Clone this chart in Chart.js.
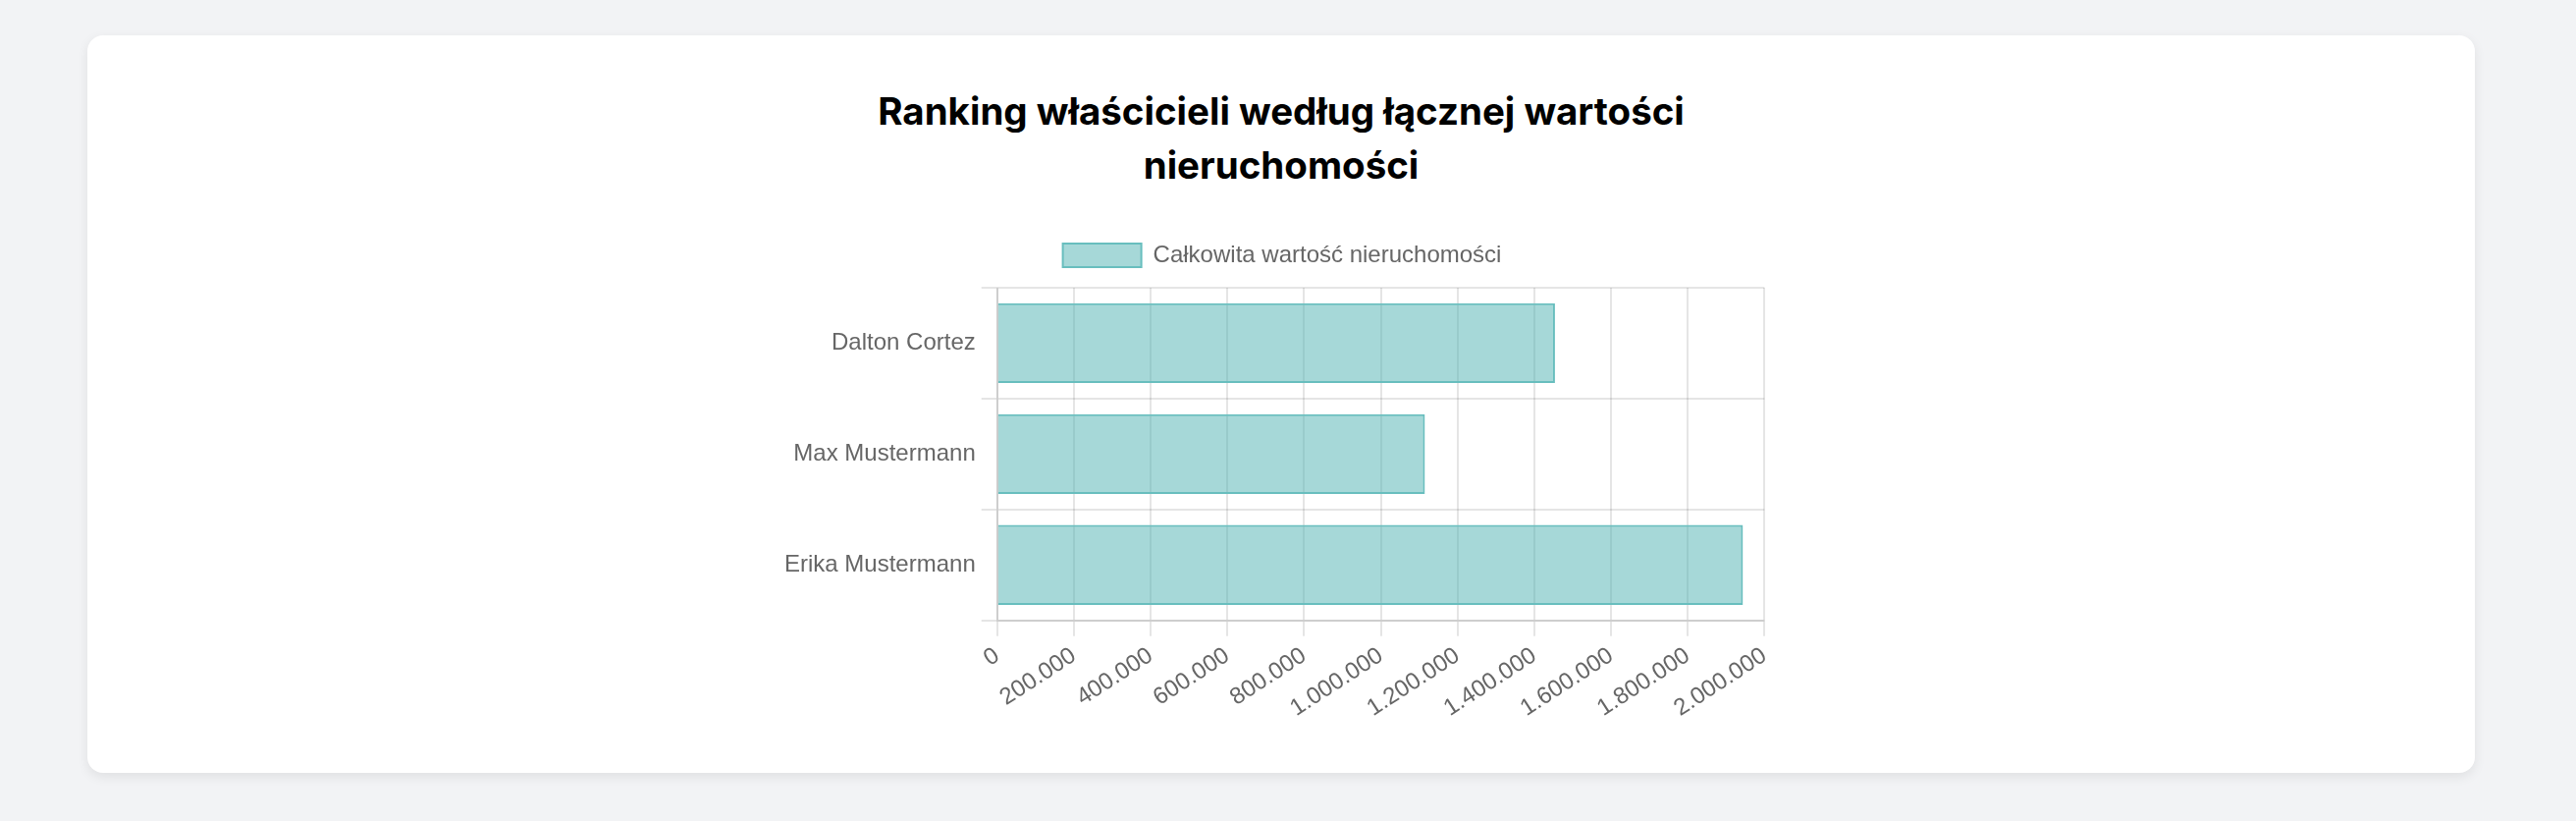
<!DOCTYPE html>
<html lang="pl">
<head>
<meta charset="utf-8">
<title>Ranking właścicieli</title>
<script src="https://cdn.jsdelivr.net/npm/chart.js@4.4.1/dist/chart.umd.min.js"></script>
<style>
  html, body { margin: 0; padding: 0; }
  body {
    width: 2624px;
    height: 836px;
    background: #f2f3f5;
    position: relative;
    overflow: hidden;
  }
  .card {
    position: absolute;
    left: 89px;
    top: 36px;
    width: 2432px;
    height: 751px;
    background: #fff;
    border-radius: 16px;
    box-shadow: 0 4px 12px rgba(0, 0, 0, 0.08);
  }
  .card h2 {
    position: absolute;
    left: 746px;
    top: 50px;
    width: 940px;
    margin: 0;
    text-align: center;
    font-family: Inter, 'Liberation Sans', Arial, sans-serif;
    font-weight: 700;
    font-size: 38.5px;
    line-height: 55px;
    color: #000;
  }
  .chart-box {
    position: absolute;
    left: 704px;
    top: 192px;
    width: 1026px;
    height: 514px;
  }
</style>
</head>
<body>
<div class="card">
  <h2 id="tytul"></h2>
  <div class="chart-box">
    <canvas id="rankingChart"></canvas>
  </div>
</div>
<script>
// Dane wykresu
const wlasciciele = ['Dalton Cortez', 'Max Mustermann', 'Erika Mustermann'];
const wartosci = [1454000, 1115000, 1944000];
const tytul = 'Ranking właścicieli według łącznej wartości nieruchomości';
const etykietaSerii = 'Całkowita wartość nieruchomości';

const fontFamily = "'Helvetica Neue', Helvetica, 'Liberation Sans', Arial, sans-serif";

// Odstęp pod legendą
const legendSpacing = {
    id: 'legendSpacing',
    beforeInit(chart) {
        const fit = chart.legend.fit;
        chart.legend.fit = function() {
            fit.bind(chart.legend)();
            this.height += 11;
        };
    }
};

document.addEventListener('DOMContentLoaded', function() {
    document.getElementById('tytul').textContent = tytul;
    const ctx = document.getElementById('rankingChart').getContext('2d');

    new Chart(ctx, {
        type: 'bar',
        data: {
            labels: wlasciciele,
            datasets: [{
                label: etykietaSerii,
                data: wartosci,
                backgroundColor: 'rgba(78, 178, 178, 0.5)',
                borderColor: 'rgb(104, 190, 190)',
                borderWidth: 2
            }]
        },
        options: {
            indexAxis: 'y',
            responsive: true,
            maintainAspectRatio: false,
            animation: false,
            locale: 'de-DE',
            devicePixelRatio: 1,
            plugins: {
                legend: {
                    display: true,
                    position: 'top',
                    labels: {
                        color: '#666',
                        font: { family: fontFamily, size: 24 },
                        boxWidth: 80,
                        boxHeight: 24,
                        padding: 20
                    }
                },
                tooltip: { enabled: false }
            },
            scales: {
                x: {
                    beginAtZero: true,
                    max: 2000000,
                    grid: { lineWidth: 2, tickLength: 16, color: 'rgba(0,0,0,0.1)' },
                    border: { width: 2, color: 'rgba(0,0,0,0.1)' },
                    ticks: {
                        color: '#666',
                        padding: 6,
                        minRotation: 33,
                        maxRotation: 33,
                        font: { family: fontFamily, size: 24 }
                    }
                },
                y: {
                    grid: { lineWidth: 2, tickLength: 16, color: 'rgba(0,0,0,0.1)' },
                    border: { width: 2, color: 'rgba(0,0,0,0.1)' },
                    ticks: {
                        color: '#666',
                        padding: 6,
                        font: { family: fontFamily, size: 24 }
                    }
                }
            }
        },
        plugins: [legendSpacing]
    });
});
</script>
</body>
</html>
